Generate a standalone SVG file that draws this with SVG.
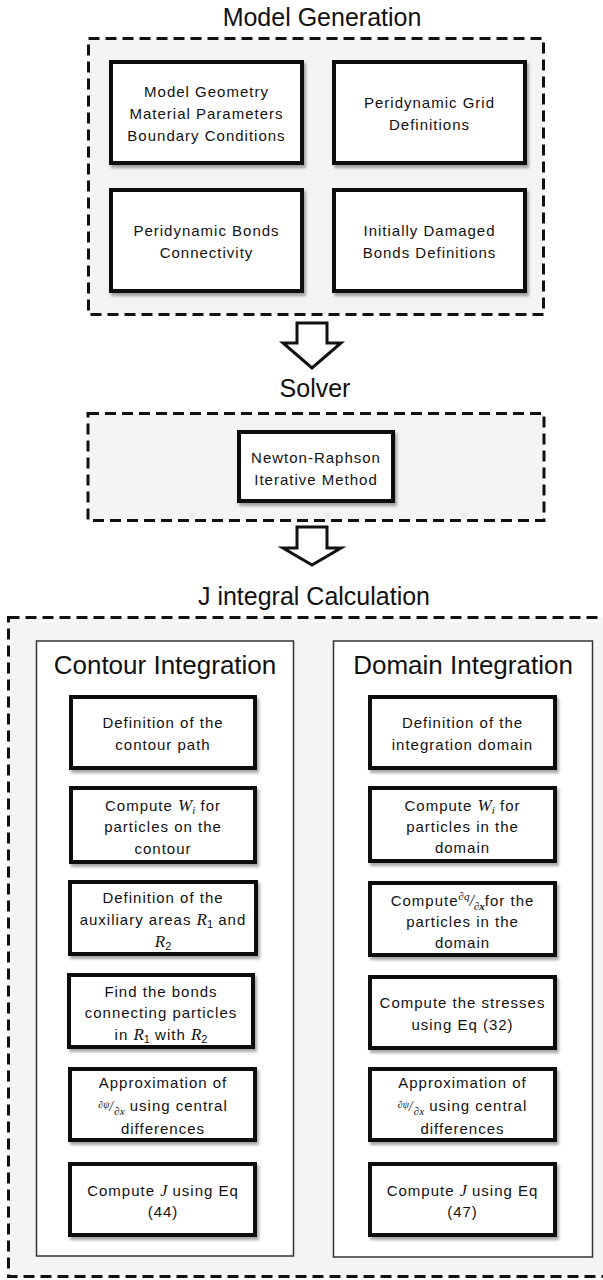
<svg xmlns="http://www.w3.org/2000/svg" width="603" height="1280" viewBox="0 0 603 1280">
<defs>
<filter id="sh" x="-10%" y="-10%" width="125%" height="130%">
<feDropShadow dx="2" dy="3" stdDeviation="1.6" flood-color="#000" flood-opacity="0.35"/>
</filter>
<style>
.title{font-family:"Liberation Sans",Arial,sans-serif;font-size:25px;fill:#111;text-anchor:middle}
.dash{fill:#f4f4f4;stroke:#111;stroke-width:3;stroke-dasharray:11 6}
.panel{fill:#fff;stroke:#333;stroke-width:1.5}
.box{fill:#fff;stroke:#111;stroke-width:4;filter:url(#sh)}
.t{font-family:"Liberation Sans",Arial,sans-serif;font-size:15px;letter-spacing:1px;fill:#111;text-anchor:middle}
.m{font-family:"Liberation Serif","Times New Roman",serif;font-style:italic;letter-spacing:0}
.arrow{fill:#fff;stroke:#111;stroke-width:3;stroke-linejoin:miter}
</style>
</defs>
<rect width="603" height="1280" fill="#fff"/>

<g id="model-generation">
<text class="title" x="322" y="26">Model Generation</text>
<rect class="dash" x="88.5" y="38.5" width="455" height="276"/>
</g>
<g id="mg-box1">
<rect class="box" x="111" y="62" width="191" height="101"/>
<text class="t" x="206.5" y="97">Model Geometry</text>
<text class="t" x="206.5" y="119">Material Parameters</text>
<text class="t" x="206.5" y="141">Boundary Conditions</text>
</g>
<g id="mg-box2">
<rect class="box" x="334" y="62" width="191" height="101"/>
<text class="t" x="429.5" y="108">Peridynamic Grid</text>
<text class="t" x="429.5" y="130">Definitions</text>
</g>
<g id="mg-box3">
<rect class="box" x="111" y="190" width="191" height="101"/>
<text class="t" x="206.5" y="236">Peridynamic Bonds</text>
<text class="t" x="206.5" y="258">Connectivity</text>
</g>
<g id="mg-box4">
<rect class="box" x="334" y="190" width="191" height="101"/>
<text class="t" x="429.5" y="236">Initially Damaged</text>
<text class="t" x="429.5" y="258">Bonds Definitions</text>
</g>

<g id="solver">
<text class="title" x="315" y="397">Solver</text>
<rect class="dash" x="88" y="413.5" width="456" height="107"/>
</g>
<g id="newton">
<rect class="box" x="239" y="432" width="154" height="69"/>
<text class="t" x="316" y="463">Newton-Raphson</text>
<text class="t" x="316" y="485">Iterative Method</text>
</g>

<g id="j-integral">
<text class="title" x="314" y="605">J integral Calculation</text>
<rect class="dash" x="8.5" y="617.5" width="610" height="659"/>
</g>

<g id="contour-panel">
<rect class="panel" x="36.5" y="641" width="257" height="615"/>
<text class="title" x="165" y="674" style="font-size:26px">Contour Integration</text>
</g>
<g id="domain-panel">
<rect class="panel" x="333.5" y="641" width="259" height="616"/>
<text class="title" x="463" y="674" style="font-size:26px">Domain Integration</text>
</g>

<g id="c1">
<rect class="box" x="71" y="697" width="184" height="71"/>
<text class="t" x="163" y="728">Definition of the</text>
<text class="t" x="163" y="750">contour path</text>
</g>
<g id="c2">
<rect class="box" x="71" y="788" width="184" height="74"/>
<text class="t" x="163" y="811">Compute <tspan class="m" font-size="17">W</tspan><tspan class="m" font-size="11" dy="3">i</tspan><tspan dy="-3"> for</tspan></text>
<text class="t" x="163" y="832">particles on the</text>
<text class="t" x="163" y="854">contour</text>
</g>
<g id="c3">
<rect class="box" x="70" y="882" width="186" height="72"/>
<text class="t" x="163" y="903">Definition of the</text>
<text class="t" x="163" y="925">auxiliary areas <tspan class="m" font-size="17">R</tspan><tspan font-size="11" dy="3" letter-spacing="0">1</tspan><tspan dy="-3"> and</tspan></text>
<text class="t" x="163" y="947"><tspan class="m" font-size="17">R</tspan><tspan font-size="11" dy="3" letter-spacing="0">2</tspan></text>
</g>
<g id="c4">
<rect class="box" x="69" y="975" width="184" height="72"/>
<text class="t" x="161" y="997">Find the bonds</text>
<text class="t" x="161" y="1018">connecting particles</text>
<text class="t" x="161" y="1040">in <tspan class="m" font-size="17">R</tspan><tspan font-size="11" dy="3" letter-spacing="0">1</tspan><tspan dy="-3"> with </tspan><tspan class="m" font-size="17">R</tspan><tspan font-size="11" dy="3" letter-spacing="0">2</tspan></text>
</g>
<g id="c5">
<rect class="box" x="70" y="1069" width="185" height="71"/>
<text class="t" x="163" y="1088">Approximation of</text>
<text class="t" x="163" y="1111"><tspan class="m" font-size="10" dy="-3">∂ψ</tspan><tspan class="m" font-size="14" dy="3">/</tspan><tspan class="m" font-size="11" dy="4" dx="1">∂x</tspan><tspan dy="-4"> using central</tspan></text>
<text class="t" x="163" y="1134">differences</text>
</g>
<g id="c6">
<rect class="box" x="70" y="1164" width="185" height="71"/>
<text class="t" x="163" y="1196">Compute <tspan class="m" font-size="16">J</tspan> using Eq</text>
<text class="t" x="163" y="1217">(44)</text>
</g>

<g id="d1">
<rect class="box" x="370" y="697" width="185" height="71"/>
<text class="t" x="462.5" y="728">Definition of the</text>
<text class="t" x="462.5" y="750">integration domain</text>
</g>
<g id="d2">
<rect class="box" x="370" y="788" width="185" height="73"/>
<text class="t" x="462.5" y="811">Compute <tspan class="m" font-size="17">W</tspan><tspan class="m" font-size="11" dy="3">i</tspan><tspan dy="-3"> for</tspan></text>
<text class="t" x="462.5" y="832">particles in the</text>
<text class="t" x="462.5" y="853">domain</text>
</g>
<g id="d3">
<rect class="box" x="370" y="883" width="185" height="72"/>
<text class="t" x="462.5" y="906">Compute<tspan class="m" font-size="11" dy="-6">∂q</tspan><tspan class="m" font-size="16" dy="6">/</tspan><tspan class="m" font-size="11" dy="4" font-weight="bold">∂x</tspan><tspan dy="-4">for the</tspan></text>
<text class="t" x="462.5" y="927">particles in the</text>
<text class="t" x="462.5" y="948">domain</text>
</g>
<g id="d4">
<rect class="box" x="370" y="977" width="185" height="71"/>
<text class="t" x="462.5" y="1008">Compute the stresses</text>
<text class="t" x="462.5" y="1030">using Eq (32)</text>
</g>
<g id="d5">
<rect class="box" x="370" y="1069" width="185" height="71"/>
<text class="t" x="462.5" y="1088">Approximation of</text>
<text class="t" x="462.5" y="1111"><tspan class="m" font-size="10" dy="-3">∂ψ</tspan><tspan class="m" font-size="14" dy="3">/</tspan><tspan class="m" font-size="11" dy="4" dx="1">∂x</tspan><tspan dy="-4"> using central</tspan></text>
<text class="t" x="462.5" y="1134">differences</text>
</g>
<g id="d6">
<rect class="box" x="370" y="1164" width="185" height="71"/>
<text class="t" x="462.5" y="1196">Compute <tspan class="m" font-size="16">J</tspan> using Eq</text>
<text class="t" x="462.5" y="1217">(47)</text>
</g>

<g id="connectors">
<path class="arrow" d="M297,323 H327 V343 H341 L312,368 L283,343 H297 Z"/>
<path class="arrow" d="M297,527 H327 V548 H341 L312,565 L283,548 H297 Z"/>
</g>
</svg>
